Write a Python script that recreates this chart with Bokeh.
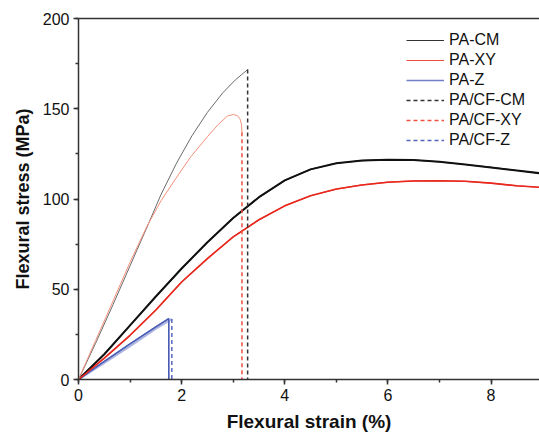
from bokeh.plotting import figure
from bokeh.models import Legend, LegendItem, LinearAxis, FixedTicker, SingleIntervalTicker, Range1d
from bokeh.embed import file_html
from bokeh.resources import INLINE

# ---- data (strain %, stress MPa) ----
pa_cm_x = [0, 0.5, 1.0, 1.5, 2.0, 2.5, 3.0, 3.5, 4.0, 4.5, 5.0, 5.5, 6.0, 6.5, 7.0, 7.5, 8.0, 8.5, 8.94]
pa_cm_y = [0, 14, 30, 46, 61.5, 76, 89.5, 101, 110.3, 116.4, 119.8, 121.3, 121.8, 121.6, 120.6, 119.1, 117.5, 115.8, 114.3]

pa_xy_x = [0, 0.5, 1.0, 1.5, 2.0, 2.5, 3.0, 3.5, 4.0, 4.5, 5.0, 5.5, 6.0, 6.5, 7.0, 7.5, 8.0, 8.5, 8.94]
pa_xy_y = [0, 11.8, 24.5, 38.5, 54, 67, 79, 88.5, 96.2, 101.8, 105.5, 107.8, 109.3, 110, 110.1, 109.8, 108.8, 107.3, 106.5]

pa_z_x = [0, 0.5, 1.0, 1.5, 1.75, 1.75]
pa_z_y = [0, 10, 19.8, 29.2, 33.7, 0]

pacf_cm_x = [0, 0.33, 0.67, 1.0, 1.33, 1.6, 1.9, 2.2, 2.5, 2.8, 3.05, 3.28, 3.28]
pacf_cm_y = [0, 20, 41.5, 63, 84.5, 102.5, 119.8, 135, 148, 158.9, 166.2, 171.7, 0]

pacf_xy_x = [0, 0.33, 0.67, 1.0, 1.33, 1.6, 1.89, 2.18, 2.5, 2.7, 2.89, 3.0, 3.08, 3.13, 3.16, 3.17, 3.17]
pacf_xy_y = [0, 21.5, 43.5, 65, 85, 99, 111.5, 123.5, 134.5, 141, 146, 146.8, 146.3, 144.5, 141.5, 137, 0]

pacf_z_x = [0, 0.5, 1.0, 1.5, 1.81, 1.81]
pacf_z_y = [0, 9.2, 18.5, 28.2, 33.5, 0]

FONT = "Liberation Sans"

p = figure(width=539, height=434, output_backend="svg", toolbar_location=None,
           x_range=Range1d(0, 8.94), y_range=Range1d(0, 200),
           min_border_left=78, min_border_right=0, min_border_top=18, min_border_bottom=55)
p.grid.visible = False
p.outline_line_color = None
p.background_fill_color = "white"

# thin "key" lines drawn first (hidden under the main curves), used for the legend
k_cm = p.line(pa_cm_x, pa_cm_y, line_color="#333333", line_width=1.2)
k_xy = p.line(pa_xy_x, pa_xy_y, line_color="#f04a3a", line_width=1.2)
k_z = p.line(pa_z_x, pa_z_y, line_color="#7080c8", line_width=1.3)

# curves
r_cfz_curve = p.line(pacf_z_x[:-1], pacf_z_y[:-1], line_color="#a3acdf", line_width=2.2, line_alpha=0.9)
r_cfz_drop = p.line(pacf_z_x[-2:], pacf_z_y[-2:], line_color="#5566c0", line_width=1.5, line_dash="4 3")
r_z = p.line(pa_z_x, pa_z_y, line_color="#4a5cb4", line_width=1.5)

r_cm = p.line(pa_cm_x, pa_cm_y, line_color="#111111", line_width=2)
r_xy = p.line(pa_xy_x, pa_xy_y, line_color="#e8281e", line_width=1.6)

r_cfcm_curve = p.line(pacf_cm_x[:-1], pacf_cm_y[:-1], line_color="#6a6a6a", line_width=1)
r_cfcm_drop = p.line(pacf_cm_x[-2:], pacf_cm_y[-2:], line_color="#333333", line_width=1.5, line_dash="4 3")
r_cfxy_curve = p.line(pacf_xy_x[:-1], pacf_xy_y[:-1], line_color="#f4907c", line_width=1)
r_cfxy_drop = p.line(pacf_xy_x[-2:], pacf_xy_y[-2:], line_color="#f05040", line_width=1.5, line_dash="4 3")

# axes styling
for ax in (p.xaxis[0], p.yaxis[0]):
    ax.axis_line_width = 1.5
    ax.axis_line_color = "#333333"
    ax.major_tick_line_color = "#333333"
    ax.minor_tick_line_color = "#333333"
    ax.major_tick_line_width = 1.5
    ax.minor_tick_line_width = 1.5
    ax.major_tick_in = 0
    ax.major_tick_out = 5
    ax.minor_tick_in = 0
    ax.minor_tick_out = 3
    ax.major_label_text_font = FONT
    ax.major_label_text_font_size = "16px"
    ax.major_label_text_color = "#111111"
    ax.axis_label_text_font = FONT
    ax.axis_label_text_font_style = "bold"
    ax.axis_label_text_color = "#111111"

p.xaxis.axis_label_text_font_size = "19px"
p.yaxis.axis_label_text_font_size = "18px"
p.xaxis.ticker = SingleIntervalTicker(interval=2, num_minor_ticks=2)
p.yaxis.ticker = SingleIntervalTicker(interval=50, num_minor_ticks=2)
p.xaxis.axis_label = "Flexural strain (%)"
p.yaxis.axis_label = "Flexural stress (MPa)"
p.xaxis.major_label_standoff = 4
p.yaxis.major_label_standoff = 4
p.xaxis.axis_label_standoff = 7
p.yaxis.axis_label_standoff = 7

top = LinearAxis(ticker=FixedTicker(ticks=[]), major_label_text_font_size="0px",
                 axis_line_width=1.5, axis_line_color="#333333",
                 major_tick_out=0, minor_tick_out=0, major_label_standoff=0)
p.add_layout(top, "above")

legend = Legend(items=[
    LegendItem(label="PA-CM", renderers=[k_cm]),
    LegendItem(label="PA-XY", renderers=[k_xy]),
    LegendItem(label="PA-Z", renderers=[k_z]),
    LegendItem(label="PA/CF-CM", renderers=[r_cfcm_drop]),
    LegendItem(label="PA/CF-XY", renderers=[r_cfxy_drop]),
    LegendItem(label="PA/CF-Z", renderers=[r_cfz_drop]),
], location=(328, 229))
legend.border_line_color = None
legend.background_fill_alpha = 0
legend.padding = 0
legend.margin = 0
legend.spacing = 0
legend.glyph_width = 38
legend.glyph_height = 20
legend.label_height = 20
legend.label_standoff = 5
legend.label_text_font = FONT
legend.label_text_font_size = "16px"
legend.label_text_color = "#111111"
p.add_layout(legend, "center")

open("out.html", "w").write(file_html(p, INLINE))
